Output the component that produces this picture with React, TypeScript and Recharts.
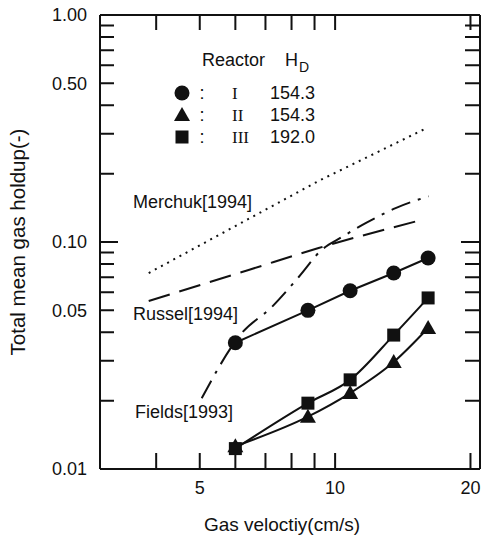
import React from "react";
import { ComposedChart, Line, XAxis, YAxis, ReferenceLine } from "recharts";

// gas velocity (cm/s) of the measured points, shared by the three reactors
const VELOCITY = [6.0, 8.7, 10.8, 13.5, 16.1];
const HOLDUP_I = [0.036, 0.05, 0.061, 0.073, 0.085];
const HOLDUP_II = [0.0126, 0.017, 0.0216, 0.0296, 0.0418];
const HOLDUP_III = [0.0123, 0.0195, 0.0247, 0.0389, 0.0567];

// literature correlations
const MERCHUK_X = [3.85, 9.2, 16.0];
const MERCHUK_Y = [0.073, 0.186, 0.318];
const RUSSEL_X = [3.85, 6.42, 9.19, 15.56];
const RUSSEL_Y = [0.055, 0.0753, 0.0941, 0.125];
const FIELDS_X = [5.05, 6.2, 7.23, 8.3, 9.33, 10.34, 11.69, 13.63, 16.14];
const FIELDS_Y = [0.0205, 0.0397, 0.0517, 0.0701, 0.0922, 0.105, 0.121, 0.141, 0.159];

const X_DOMAIN = [3, 21];
const Y_DOMAIN = [0.01, 1];
const X_TICKS = [4, 5, 6, 7, 8, 9, 10, 20];
const X_LABEL_VALUES = [5, 10, 20];
const X_LABEL_TEXT = ["5", "10", "20"];
const Y_TICKS = [
  0.01, 0.02, 0.03, 0.04, 0.05, 0.06, 0.07, 0.08, 0.09,
  0.1, 0.2, 0.3, 0.4, 0.5, 0.6, 0.7, 0.8, 0.9, 1,
];
const Y_MAJOR = [0.01, 0.1, 1];
const Y_LABEL_VALUES = [1, 0.5, 0.1, 0.05, 0.01];
const Y_LABEL_TEXT = ["1.00", "0.50", "0.10", "0.05", "0.01"];

const LEGEND_ROWS = [
  { shape: "circle", reactor: "I", hd: "154.3" },
  { shape: "triangle", reactor: "II", hd: "154.3" },
  { shape: "square", reactor: "III", hd: "192.0" },
];

const zip = (xs: number[], ys: number[]) => xs.map((x, i) => ({ x, y: ys[i] }));
const dataI = zip(VELOCITY, HOLDUP_I);
const dataII = zip(VELOCITY, HOLDUP_II);
const dataIII = zip(VELOCITY, HOLDUP_III);
const merchuk = zip(MERCHUK_X, MERCHUK_Y);
const russel = zip(RUSSEL_X, RUSSEL_Y);
const fields = zip(FIELDS_X, FIELDS_Y);

const W = 482;
const H = 548;
const TOP = 15;
const RIGHT = 2;
const X_AXIS_H = 79;
const Y_AXIS_W = 100;
const PLOT_L = Y_AXIS_W;
const PLOT_R = W - RIGHT;
const PLOT_T = TOP;
const PLOT_B = H - X_AXIS_H;
const SANS = "'Liberation Sans', Arial, sans-serif";
const SERIF = "'Liberation Serif', 'Times New Roman', serif";
const INK = "#111";

// same log mapping as the chart's axes, used for the frame tick marks
const px = (x: number) =>
  PLOT_L + ((PLOT_R - PLOT_L) * Math.log(x / X_DOMAIN[0])) / Math.log(X_DOMAIN[1] / X_DOMAIN[0]);
const py = (y: number) =>
  PLOT_B - ((PLOT_B - PLOT_T) * Math.log(y / Y_DOMAIN[0])) / Math.log(Y_DOMAIN[1] / Y_DOMAIN[0]);

const tickPath = [
  ...Y_TICKS.map((v) => {
    const len = Y_MAJOR.includes(v) ? 18 : 14;
    const y = py(v);
    return `M${PLOT_L},${y}H${PLOT_L + len}M${PLOT_R},${y}H${PLOT_R - len - 1}`;
  }),
  ...X_TICKS.map((v) => {
    const x = px(v);
    return `M${x},${PLOT_T}V${PLOT_T + 15}M${x},${PLOT_B}V${PLOT_B - 16}`;
  }),
].join("");

const Marker = ({ cx, cy, shape }: { cx: number; cy: number; shape: string }) => {
  if (shape === "circle") return <circle cx={cx} cy={cy} r={7.5} fill={INK} />;
  if (shape === "triangle")
    return <polygon points={`${cx},${cy - 8} ${cx - 8},${cy + 6} ${cx + 8},${cy + 6}`} fill={INK} />;
  return <rect x={cx - 6.5} y={cy - 6.5} width={13} height={13} fill={INK} />;
};

const dotOf = (shape: string) => (p: any) => (
  <Marker key={`${shape}-${p.index}`} cx={p.cx} cy={p.cy} shape={shape} />
);

const BottomLabel = (p: any) => {
  const i = X_LABEL_VALUES.indexOf(p.payload.value);
  if (i < 0) return <g />;
  return (
    <text x={p.x} y={494} textAnchor="middle" fontSize={18} fontFamily={SANS} fill={INK}>
      {X_LABEL_TEXT[i]}
    </text>
  );
};

const LeftLabel = (p: any) => {
  const i = Y_LABEL_VALUES.indexOf(p.payload.value);
  if (i < 0) return <g />;
  return (
    <text x={87} y={p.y} dy="0.36em" textAnchor="end" fontSize={18} fontFamily={SANS} fill={INK}>
      {Y_LABEL_TEXT[i]}
    </text>
  );
};

export default function App() {
  return (
    <div style={{ position: "absolute", left: 0, top: 0 }}>
      <ComposedChart width={W} height={H} margin={{ top: TOP, right: RIGHT, bottom: 0, left: 0 }}>
        <XAxis
          xAxisId="b"
          type="number"
          dataKey="x"
          scale="log"
          domain={X_DOMAIN}
          ticks={X_TICKS}
          interval={0}
          height={X_AXIS_H}
          tickLine={false}
          axisLine={{ stroke: INK, strokeWidth: 2 }}
          tick={BottomLabel}
        />
        <YAxis
          yAxisId="l"
          type="number"
          scale="log"
          domain={Y_DOMAIN}
          ticks={Y_TICKS}
          interval={0}
          width={Y_AXIS_W}
          tickLine={false}
          axisLine={{ stroke: INK, strokeWidth: 2 }}
          tick={LeftLabel}
        />

        <ReferenceLine xAxisId="b" yAxisId="l" y={Y_DOMAIN[1]} stroke={INK} strokeWidth={2} ifOverflow="visible" />
        <ReferenceLine xAxisId="b" yAxisId="l" x={X_DOMAIN[1]} stroke={INK} strokeWidth={2} ifOverflow="visible" />

        <Line xAxisId="b" yAxisId="l" data={merchuk} dataKey="y" type="linear" stroke={INK}
          strokeWidth={2} strokeDasharray="2 5" dot={false} isAnimationActive={false} />
        <Line xAxisId="b" yAxisId="l" data={russel} dataKey="y" type="monotone" stroke={INK}
          strokeWidth={2} strokeDasharray="22 10" dot={false} isAnimationActive={false} />
        <Line xAxisId="b" yAxisId="l" data={fields} dataKey="y" type="monotone" stroke={INK}
          strokeWidth={2} strokeDasharray="20 8 3 8" dot={false} isAnimationActive={false} />

        <Line xAxisId="b" yAxisId="l" data={dataI} dataKey="y" type="linear" stroke={INK}
          strokeWidth={2} dot={dotOf("circle")} isAnimationActive={false} />
        <Line xAxisId="b" yAxisId="l" data={dataII} dataKey="y" type="monotone" stroke={INK}
          strokeWidth={2} dot={dotOf("triangle")} isAnimationActive={false} />
        <Line xAxisId="b" yAxisId="l" data={dataIII} dataKey="y" type="monotone" stroke={INK}
          strokeWidth={2} dot={dotOf("square")} isAnimationActive={false} />

        <g fontFamily={SANS} fill={INK} fontSize={18}>
          <text x={202} y={66}>Reactor</text>
          <text x={285} y={66}>H</text>
          <text x={299} y={72} fontSize={14}>D</text>
          {LEGEND_ROWS.map((r, i) => {
            const y = 93 + i * 22;
            return (
              <g key={r.reactor}>
                <Marker cx={182} cy={y} shape={r.shape} />
                <text x={202} y={y + 6} textAnchor="middle">:</text>
                <text x={232} y={y + 6} fontFamily={SERIF} fontSize={17}>{r.reactor}</text>
                <text x={270} y={y + 6}>{r.hd}</text>
              </g>
            );
          })}
          <text x={133} y={208}>Merchuk[1994]</text>
          <text x={133} y={320}>Russel[1994]</text>
          <text x={135} y={418}>Fields[1993]</text>
          <text x={282} y={531} textAnchor="middle" fontSize={19}>Gas veloctiy(cm/s)</text>
          <text transform="rotate(-90)" x={-242} y={25} textAnchor="middle" fontSize={20.5}>
            Total mean gas holdup(-)
          </text>
        </g>
        <path d={tickPath} stroke={INK} strokeWidth={2} fill="none" />
      </ComposedChart>
    </div>
  );
}
